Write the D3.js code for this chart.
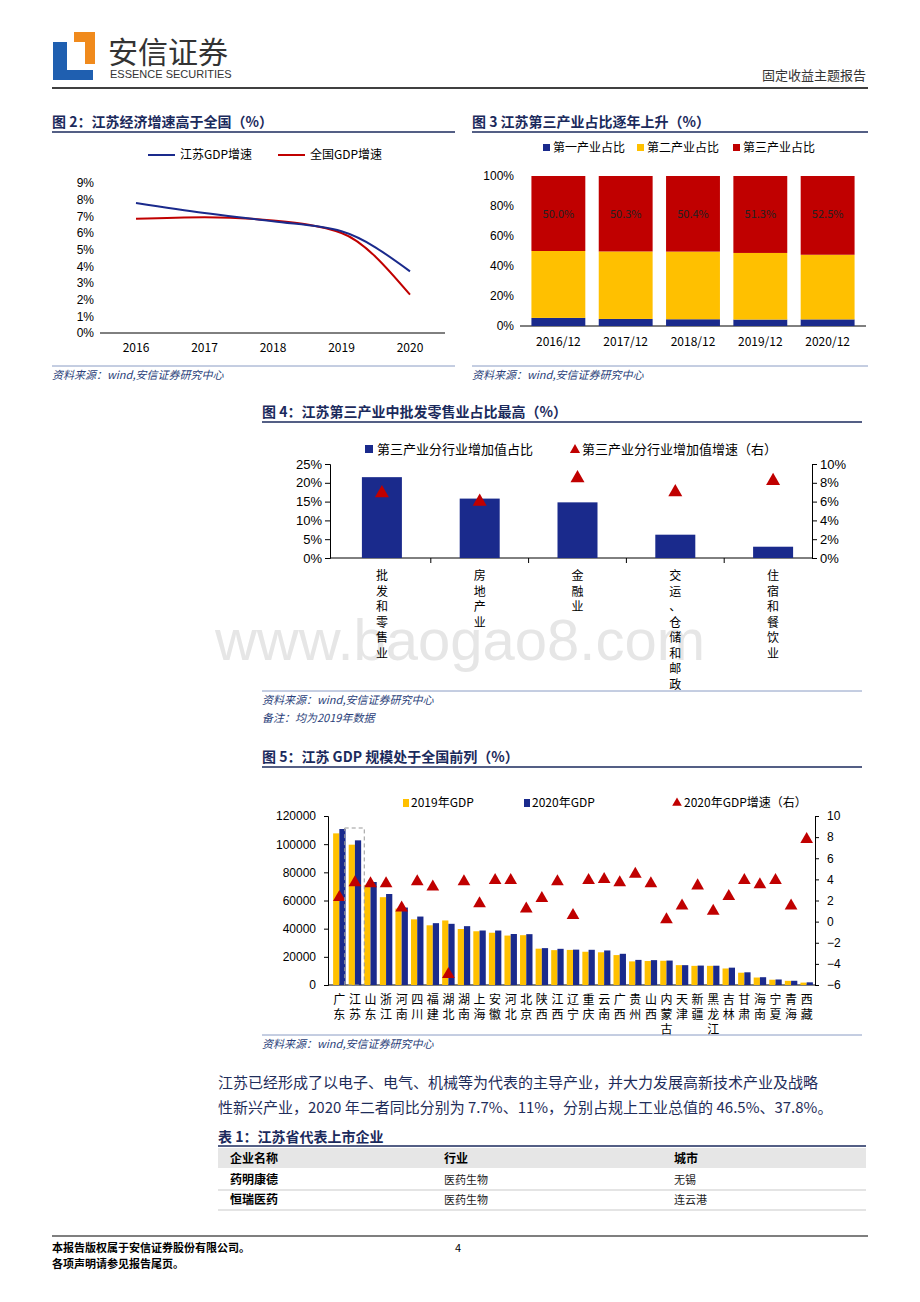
<!DOCTYPE html>
<html><head><meta charset="utf-8">
<script src="https://cdn.jsdelivr.net/npm/d3@7"></script>
<style>body{margin:0;background:#fff}svg{display:block;font-family:"Noto Sans CJK SC","Noto Sans",sans-serif}</style>
</head><body><svg id="s" width="920" height="1302"></svg>
<script>
// Fig 2
const years=["2016","2017","2018","2019","2020"];
const jsGrowth=[7.8,7.2,6.7,6.1,3.7];
const cnGrowth=[6.85,6.95,6.75,6.0,2.3];
// Fig 3
const periods=["2016/12","2017/12","2018/12","2019/12","2020/12"];
const primary=[5.4,4.7,4.5,4.3,4.4];
const secondary=[44.6,45.0,45.1,44.4,43.1];
const tertiary=[50.0,50.3,50.4,51.3,52.5];
// Fig 4
const sectors=["批发和零售业","房地产业","金融业","交运、仓储和邮政","住宿和餐饮业"];
const sectorShare=[21.5,15.8,14.8,6.2,3.0];
const sectorGrowth=[6.9,6.0,8.5,7.0,8.2];
// Fig 5
const provinces=["广东","江苏","山东","浙江","河南","四川","福建","湖北","湖南","上海","安徽","河北","北京","陕西","江西","辽宁","重庆","云南","广西","贵州","山西","内蒙古","天津","新疆","黑龙江","吉林","甘肃","海南","宁夏","青海","西藏"];
const gdp2019=[107671,99632,71067,62352,54259,46616,42395,45828,39752,38155,37114,35104,35371,25793,24758,24909,23606,23224,21237,16769,17027,17213,14104,13597,13613,11727,8718,5309,3748,2966,1698];
const gdp2020=[110761,102719,73129,64613,54997,48599,43904,43443,41781,38701,38681,36207,36103,26182,25692,25115,25003,24522,22157,17827,17652,17360,14084,13798,13699,12311,9017,5532,3921,3006,1903];
const growth2020=[2.3,3.7,3.6,3.6,1.3,3.8,3.3,-5.0,3.8,1.7,3.9,3.9,1.2,2.2,3.8,0.6,3.9,4.0,3.7,4.5,3.6,0.2,1.5,3.4,1.0,2.4,3.9,3.5,3.9,1.5,7.8];

const NAVY="#1a2a8c",RED="#c00000",YEL="#ffc000",TITLE="#1b2a5c",SRC="#2b3f7a";
const svg=d3.select("#s");
function txt(x,y,t,o={}){const e=svg.append("text").attr("x",x).attr("y",y).text(t)
 .attr("font-size",o.fs||12).attr("fill",o.fill||"#000").attr("text-anchor",o.a||"start");
 if(o.bold)e.attr("font-weight","bold"); if(o.it)e.attr("font-style","italic"); return e;}
function hline(x1,x2,y,c="#000",w=1){svg.append("line").attr("x1",x1).attr("x2",x2).attr("y1",y).attr("y2",y).attr("stroke",c).attr("stroke-width",w);}
function styleAxis(g){g.selectAll("path,line").attr("stroke","#000");g.selectAll("text").attr("font-size",12).attr("fill","#000").attr("font-family","Liberation Sans, Arial");}

// Header
svg.append("rect").attr("x",53).attr("y",42).attr("width",14).attr("height",38).attr("fill","#1f5fb0");
svg.append("rect").attr("x",53).attr("y",70).attr("width",40).attr("height",10).attr("fill","#1f5fb0");
svg.append("rect").attr("x",74).attr("y",32).attr("width",21).attr("height",10).attr("fill","#f08a1c");
svg.append("rect").attr("x",85).attr("y",32).attr("width",10).attr("height",32).attr("fill","#f08a1c");
txt(108,63,"安信证券",{fs:30,fill:"#333"});
txt(110,78,"ESSENCE SECURITIES",{fs:11,fill:"#333"}).attr("font-family","Liberation Sans Narrow, Liberation Sans");
txt(866,80,"固定收益主题报告",{fs:13,a:"end",fill:"#333"});
hline(52,868,88,"#000",1.5);

// Fig 2
txt(52,127,"图 2：江苏经济增速高于全国（%）",{fs:14,bold:true,fill:TITLE});
hline(52,455,132,"#1b2a5c",1.5);
{
 const x=d3.scalePoint().domain(years).range([136,410]);
 const y=d3.scaleLinear().domain([0,9]).range([333,183]);
 svg.append("g").attr("transform","translate(100,0)").call(d3.axisLeft(y).ticks(9).tickFormat(d=>d+"%").tickSize(0).tickPadding(6)).call(styleAxis).select(".domain").remove();
 svg.append("line").attr("x1",100).attr("x2",445).attr("y1",333).attr("y2",333).attr("stroke","#000");
 years.forEach(d=>txt(x(d),352,d,{a:"middle",fs:12}));
 const ln=d3.line().x((d,i)=>x(years[i])).y(d=>y(d)).curve(d3.curveMonotoneX);
 svg.append("path").attr("d",ln(cnGrowth)).attr("fill","none").attr("stroke",RED).attr("stroke-width",2);
 svg.append("path").attr("d",ln(jsGrowth)).attr("fill","none").attr("stroke",NAVY).attr("stroke-width",2);
 hline(148,175,155,NAVY,2); txt(180,159,"江苏GDP增速",{fs:12});
 hline(278,305,155,RED,2); txt(310,159,"全国GDP增速",{fs:12});
 hline(52,455,366,"#8a9cc4",1);
 txt(52,379,"资料来源：wind,安信证券研究中心",{fs:11,it:true,fill:SRC});
}

// Fig 3
txt(472,127,"图 3 江苏第三产业占比逐年上升（%）",{fs:14,bold:true,fill:TITLE});
hline(472,868,132,"#1b2a5c",1.5);
{
 const x=d3.scaleBand().domain(periods).range([520,866]).padding(0.14);
 const y=d3.scaleLinear().domain([0,100]).range([326,176]);
 svg.append("g").attr("transform","translate(520,0)").call(d3.axisLeft(y).ticks(5).tickFormat(d=>d+"%").tickSize(0).tickPadding(6)).call(styleAxis).select(".domain").remove();
 hline(520,866,326);
 periods.forEach((p,i)=>{
  const b=[primary[i],secondary[i],tertiary[i]], cols=[NAVY,YEL,RED]; let acc=0;
  const tot=b[0]+b[1]+b[2];
  b.forEach((v,k)=>{const v0=acc/tot*100, v1=(acc+v)/tot*100; acc+=v;
   svg.append("rect").attr("x",x(p)+2).attr("width",x.bandwidth()-4).attr("y",y(v1)).attr("height",y(v0)-y(v1)).attr("fill",cols[k]);});
  txt(x(p)+x.bandwidth()/2,218,tertiary[i].toFixed(1)+"%",{a:"middle",fs:11,fill:"#222"});
  txt(x(p)+x.bandwidth()/2,346,p,{a:"middle",fs:12});
 });
 [["第一产业占比",NAVY,543],["第二产业占比",YEL,637],["第三产业占比",RED,733]].forEach(([t,c,xx])=>{
  svg.append("rect").attr("x",xx).attr("y",144).attr("width",7).attr("height",7).attr("fill",c); txt(xx+10,152,t,{fs:12});});
 hline(472,868,366,"#8a9cc4",1);
 txt(472,379,"资料来源：wind,安信证券研究中心",{fs:11,it:true,fill:SRC});
}

// Watermark
txt(460,660,"www.baogao8.com",{fs:58,a:"middle",fill:"#e6e6e6"}).attr("font-family","Liberation Sans");

// Fig 4
txt(262,417,"图 4：江苏第三产业中批发零售业占比最高（%）",{fs:14,bold:true,fill:TITLE});
hline(262,862,422,"#1b2a5c",1.5);
{
 const x=d3.scaleBand().domain(sectors).range([333,822]).paddingInner(0).paddingOuter(0);
 const bw=40;
 const y=d3.scaleLinear().domain([0,25]).range([558,464]);
 const y2=d3.scaleLinear().domain([0,10]).range([558,464]);
 svg.append("g").attr("transform","translate(330,0)").call(d3.axisLeft(y).ticks(5).tickFormat(d=>d+"%").tickSize(5)).call(styleAxis).selectAll("text").attr("font-size",13);
 svg.append("g").attr("transform","translate(812,0)").call(d3.axisRight(y2).ticks(5).tickFormat(d=>d+"%").tickSize(5)).call(styleAxis).selectAll("text").attr("font-size",13);
 hline(330,812,558);
 sectors.forEach((s,i)=>{
  const cx=x(s)+x.bandwidth()/2;
  if(i<4) svg.append("line").attr("x1",x(s)+x.bandwidth()).attr("x2",x(s)+x.bandwidth()).attr("y1",558).attr("y2",563).attr("stroke","#000");
  svg.append("rect").attr("x",cx-bw/2).attr("width",bw).attr("y",y(sectorShare[i])).attr("height",558-y(sectorShare[i])).attr("fill",NAVY);
  svg.append("path").attr("d",d3.symbol(d3.symbolTriangle,85)()).attr("transform",`translate(${cx},${y2(sectorGrowth[i])})`).attr("fill",RED);
  [...s].forEach((c,k)=>txt(cx,580+k*15.5,c,{a:"middle",fs:12}));
 });
 svg.append("rect").attr("x",365).attr("y",445).attr("width",8).attr("height",8).attr("fill",NAVY);
 txt(377,454,"第三产业分行业增加值占比",{fs:13});
 svg.append("path").attr("d",d3.symbol(d3.symbolTriangle,45)()).attr("transform","translate(575,450)").attr("fill",RED);
 txt(582,454,"第三产业分行业增加值增速（右）",{fs:13});
 hline(262,862,691,"#8a9cc4",1);
 txt(262,704,"资料来源：wind,安信证券研究中心",{fs:11,it:true,fill:SRC});
 txt(262,722,"备注：均为2019年数据",{fs:11,it:true,fill:SRC});
}

// Fig 5
txt(262,762,"图 5：江苏 GDP 规模处于全国前列（%）",{fs:14,bold:true,fill:TITLE});
hline(262,862,767,"#1b2a5c",1.5);
{
 const x=d3.scaleBand().domain(provinces).range([330,816]).padding(0.2);
 const y=d3.scaleLinear().domain([0,120000]).range([985,816]);
 const y2=d3.scaleLinear().domain([-6,10]).range([985,816]);
 svg.append("g").attr("transform","translate(328,0)").call(d3.axisLeft(y).ticks(6).tickFormat(d3.format("d")).tickSize(4).tickPadding(8)).call(styleAxis);
 svg.append("g").attr("transform","translate(815,0)").call(d3.axisRight(y2).ticks(8).tickSize(4).tickPadding(8)).call(styleAxis);
 hline(328,815,985);
 const bw=x.bandwidth()/2;
 provinces.forEach((p,i)=>{
  const x0=x(p);
  svg.append("rect").attr("x",x0).attr("width",bw).attr("y",y(gdp2019[i])).attr("height",985-y(gdp2019[i])).attr("fill",YEL);
  svg.append("rect").attr("x",x0+bw).attr("width",bw).attr("y",y(gdp2020[i])).attr("height",985-y(gdp2020[i])).attr("fill",NAVY);
  svg.append("path").attr("d",d3.symbol(d3.symbolTriangle,70)()).attr("transform",`translate(${x0+x.bandwidth()/2},${y2(growth2020[i])})`).attr("fill",RED);
  [...p].forEach((c,k)=>txt(x0+x.bandwidth()/2,1004+k*15,c,{a:"middle",fs:12}));
 });
 const xj=x("江苏");
 svg.append("rect").attr("x",xj-4).attr("y",828).attr("width",x.step()+4).attr("height",157).attr("fill","none").attr("stroke","#999").attr("stroke-dasharray","4,3");
 svg.append("rect").attr("x",403).attr("y",799).attr("width",6).attr("height",8).attr("fill",YEL); txt(411,807,"2019年GDP",{fs:12});
 svg.append("rect").attr("x",524).attr("y",799).attr("width",6).attr("height",8).attr("fill",NAVY); txt(532,807,"2020年GDP",{fs:12});
 svg.append("path").attr("d",d3.symbol(d3.symbolTriangle,40)()).attr("transform","translate(677,803)").attr("fill",RED); txt(684,807,"2020年GDP增速（右）",{fs:12});
 hline(262,862,1035,"#8a9cc4",1);
 txt(262,1048,"资料来源：wind,安信证券研究中心",{fs:11,it:true,fill:SRC});
}

// Paragraph
txt(218,1088,"江苏已经形成了以电子、电气、机械等为代表的主导产业，并大力发展高新技术产业及战略",{fs:15,fill:"#1f2d5a"});
txt(218,1113,"性新兴产业，2020 年二者同比分别为 7.7%、11%，分别占规上工业总值的 46.5%、37.8%。",{fs:15,fill:"#1f2d5a"});

// Table
const tableRows=[["药明康德","医药生物","无锡"],["恒瑞医药","医药生物","连云港"]];
txt(218,1142,"表 1：江苏省代表上市企业",{fs:14,bold:true,fill:TITLE});
hline(218,866,1146,"#1b2a5c",1.5);
svg.append("rect").attr("x",218).attr("y",1148).attr("width",648).attr("height",20).attr("fill","#e6e6e6");
txt(230,1163,"企业名称",{fs:12,bold:true}); txt(444,1163,"行业",{fs:12,bold:true}); txt(674,1163,"城市",{fs:12,bold:true});
tableRows.forEach((r,i)=>{const yy=1184+i*20;
 txt(230,yy,r[0],{fs:12,bold:true}); txt(444,yy,r[1],{fs:11,fill:"#222"}); txt(674,yy,r[2],{fs:11,fill:"#222"});
 hline(218,866,yy+6,"#bbb",0.8);});

// Footer
hline(52,868,1236,"#000",1.2);
txt(52,1252,"本报告版权属于安信证券股份有限公司。",{fs:11,bold:true});
txt(52,1268,"各项声明请参见报告尾页。",{fs:11,bold:true});
txt(458,1252,"4",{fs:11,a:"middle"});
</script></body></html>
